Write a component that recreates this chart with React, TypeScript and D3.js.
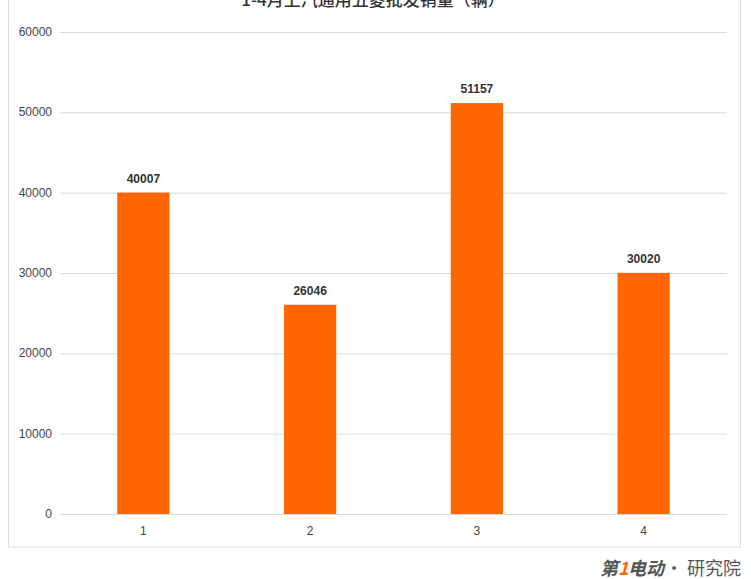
import React from "react";
import * as d3 from "d3";

const title = "1-4月上汽通用五菱批发销量（辆）";
const categories = ["1", "2", "3", "4"];
const values = [40007, 26046, 51157, 30020];
const yTicks = [0, 10000, 20000, 30000, 40000, 50000, 60000];

const W = 751;
const H = 579;
const plot = { left: 60, right: 727, top: 32, bottom: 514 };
const FONT = "'Liberation Sans', Arial, 'Noto Sans CJK SC', sans-serif";

export default function App() {
  const x = d3
    .scaleBand<string>()
    .domain(categories)
    .range([plot.left, plot.right])
    .paddingInner(0.687)
    .paddingOuter(0.3435);
  const y = d3.scaleLinear().domain([0, 60000]).range([plot.bottom, plot.top]);

  return (
    <svg
      width={W}
      height={H}
      style={{ position: "absolute", left: 0, top: 0, background: "#fff" }}
      fontFamily={FONT}
    >
      <rect x={8.5} y={-10} width={732} height={557} fill="#fff" stroke="#dcdcdc" strokeWidth={1} />
      <text x={373} y={6} textAnchor="middle" fontSize={17} fontWeight={500} fill="#333" fontFamily="'Noto Sans CJK SC', sans-serif">
        {title}
      </text>
      {yTicks.map((t) => (
        <g key={t}>
          <line x1={plot.left} x2={plot.right} y1={y(t) + 0.5} y2={y(t) + 0.5} stroke="#d9d9d9" strokeWidth={1} />
          <text x={52} y={y(t) + 4} textAnchor="end" fontSize={12} fill="#444">
            {t}
          </text>
        </g>
      ))}
      {categories.map((c, i) => (
        <g key={c}>
          <rect
            x={x(c)}
            y={y(values[i])}
            width={x.bandwidth()}
            height={y(0) - y(values[i])}
            fill="#ff6600"
          />
          <text
            x={(x(c) as number) + x.bandwidth() / 2}
            y={y(values[i]) - 10}
            textAnchor="middle"
            fontSize={12}
            fontWeight="bold"
            fill="#333"
          >
            {values[i]}
          </text>
          <text
            x={(x(c) as number) + x.bandwidth() / 2}
            y={535}
            textAnchor="middle"
            fontSize={12}
            fill="#444"
          >
            {c}
          </text>
        </g>
      ))}
      <g fontFamily="'Noto Sans CJK SC', sans-serif">
        <text x={600} y={575} fontSize={18} fontWeight="bold" fill="#555" fontStyle="italic">
          第
        </text>
        <text x={618} y={575} fontSize={18} fontWeight="bold" fill="#ff6600" fontStyle="italic">
          1
        </text>
        <text x={628} y={575} fontSize={18} fontWeight="bold" fill="#555" fontStyle="italic">
          电动
        </text>
        <text x={665} y={575} fontSize={18} fill="#555">
          · 研究院
        </text>
      </g>
    </svg>
  );
}
